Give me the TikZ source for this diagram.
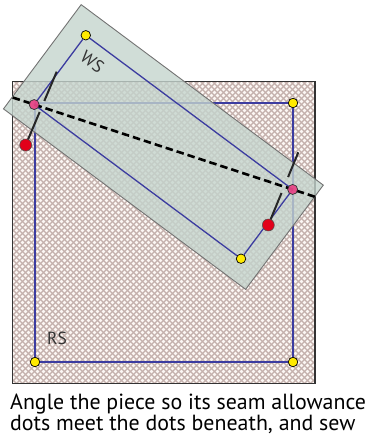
\documentclass[tikz,border=0pt]{standalone}
\usepackage{fontspec}
\setmainfont{PT Sans}
\usetikzlibrary{calc}
\definecolor{rsfill}{RGB}{196,176,172}
\definecolor{rsdot}{RGB}{252,247,244}
\definecolor{wsfill}{RGB}{196,212,205}
\definecolor{seamblue}{RGB}{60,60,160}
\definecolor{dotyellow}{RGB}{255,234,0}
\definecolor{dotpink}{RGB}{232,70,135}
\definecolor{pinred}{RGB}{226,0,26}
\begin{document}
\begin{tikzpicture}[x=1pt,y=-1pt,
 seam/.style={draw=seamblue,line width=1.3pt},
 ydot/.style={circle,draw=black,fill=dotyellow,line width=0.7pt,minimum size=9.5pt,inner sep=0pt},
 pdot/.style={circle,draw=black!80,fill=dotpink,fill opacity=0.94,line width=0.7pt,minimum size=10pt,inner sep=0pt},
 pinhead/.style={circle,draw=black!70,fill=pinred,line width=0.5pt,minimum size=12pt,inner sep=0pt},
 pin/.style={draw=black!85,line width=2pt},
 lab/.style={text=black!80,inner sep=0pt,font=\fontsize{17.5}{18}\selectfont},
 caption/.style={anchor=base west,align=left,inner sep=0pt,font=\fontsize{21.9}{17.4}\selectfont}
]
\useasboundingbox (0,0) rectangle (368,441);
% right side of the fabric
\fill[rsfill] (12.7,81.5) rectangle (315,383.3);
\begin{scope}
 \clip (12.7,81.5) rectangle (315,383.3);
 \foreach \j in {0,...,50}
  \fill[rsdot] \foreach \i in {0,...,50} {(13.5+\i*6,83.5+\j*6) circle (1.8pt) (16.5+\i*6,86.5+\j*6) circle (1.8pt)};
\end{scope}
\draw[black!80,line width=1.4pt] (12.7,81.5) rectangle (315,383.3);
\coordinate (rsTL) at (35,103);
\node[ydot] (rsTR) at (293,103) {};
\node[ydot] (rsBR) at (293,362) {};
\node[ydot] (rsBL) at (35,362) {};
\draw[seam] (rsTL) -- (rsTR) -- (rsBR) -- (rsBL) -- (rsTL);
\node[lab] (rsLab) at (57,338.5) {RS};
% wrong side of the piece
\begin{scope}[shift={(163.4,147)},rotate=-36.7]
 \filldraw[fill=wsfill,fill opacity=0.8,draw=black!55,line width=0.9pt] (-151,-65) rectangle (151,65);
 \node[ydot] (wsT) at (-129,-43.2) {};
 \coordinate (wsR) at (129,-43.2);
 \node[ydot] (wsB) at (129,43.2) {};
 \coordinate (wsL) at (-129,43.2);
 \node[lab,rotate=-36.7] (wsLab) at (-108,-26) {WS};
\end{scope}
\draw[seam] (wsT) -- (wsR) -- (wsB) -- (wsL) -- (wsT);
% pins
\coordinate (tipL) at (56.7,71.7);
\coordinate (headL) at (25.7,145);
\coordinate (tipR) at (298.3,152.3);
\coordinate (headR) at (268.3,225);
\draw[pin] (tipL) -- ($(tipL)!0.40!(headL)$) ($(tipL)!0.55!(headL)$) -- (headL);
\draw[pin] (tipR) -- ($(tipR)!0.34!(headR)$) ($(tipR)!0.56!(headR)$) -- (headR);
\draw[black,line width=2.6pt,dash pattern=on 7.5pt off 4pt] ($(wsL)!-0.083!(wsR)$) -- ($(wsR)!-0.087!(wsL)$);
\node[pdot] (pinkL) at (wsL) {};
\node[pdot] (pinkR) at (wsR) {};
\node[pinhead] (redL) at (headL) {};
\node[pinhead] (redR) at (headR) {};
\node[caption] (cap) at (10,430.7) {Angle the piece so its seam allowance\\dots meet the dots beneath, and sew};
\end{tikzpicture}
\end{document}
